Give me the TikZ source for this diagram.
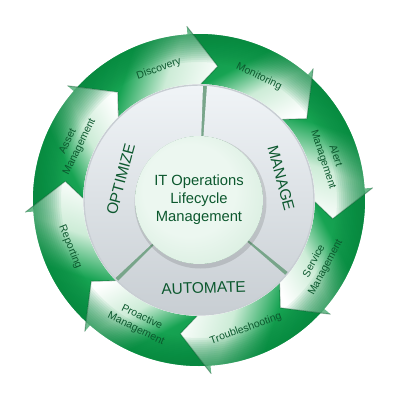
\documentclass[tikz,border=0pt]{standalone}
\usepackage{fontspec}
\setmainfont{Liberation Sans}
\usetikzlibrary{calc}
\definecolor{gr}{RGB}{22,163,82}
\definecolor{grd}{RGB}{8,136,64}
\definecolor{grl}{RGB}{205,236,215}
\definecolor{txt}{RGB}{12,88,46}
\definecolor{gapc}{RGB}{120,165,138}
\definecolor{grayhi}{RGB}{240,244,247}
\definecolor{graylo}{RGB}{200,206,211}
\definecolor{hubin}{RGB}{236,247,240}
\definecolor{hubout}{RGB}{190,226,201}
\pgfdeclareverticalshading{arrowshade}{100bp}{color(0bp)=(white); color(22bp)=(white); color(42bp)=(grl); color(58bp)=(gr); color(100bp)=(grd)}
\pgfdeclareradialshading{hubshade}{\pgfpoint{-6bp}{6bp}}{color(0bp)=(hubin); color(18bp)=(hubin); color(50bp)=(hubout)}
\tikzset{
  ringlabel/.style={text=txt, align=center, font=\fontsize{7.5}{9.2}\selectfont},
  phaselabel/.style={text=txt, font=\fontsize{11}{13}\selectfont}
}
\begin{document}
\begin{tikzpicture}[scale=0.025, line join=round, line cap=round]
    \def\rin{116}\def\rout{166}\def\rspk{174}\def\rtip{135}
    \def\rgray{115}\def\rhub{64}
    \useasboundingbox (-199,-200) rectangle (201,200);
    % outer ring of arrows, head at angle \s
    \foreach \s in {94,49,4,-41,-86,-131,-176,139}{
        \pgfmathsetmacro\p{\s+45}
        \pgfmathsetmacro\sa{\s-22}
        \shade[shading=arrowshade, shading angle=\sa]
            (\p-2:\rout) arc[start angle=\p-2, end angle=\s, radius=\rout]
            -- (\s:\rspk) -- (\s-12:\rtip) -- (\s-5:\rin)
            arc[start angle=\s-5, end angle=\p-5, radius=\rin]
            -- (\p-12:\rtip) -- cycle;
    }
    % darker outer rim
    \foreach \r in {138,140,...,164}
        \fill[grd, opacity=0.075, even odd rule] (0,0) circle (\rout) (0,0) circle (\r);
    \foreach \s in {94,49,4,-41,-86,-131,-176,139}{
        \fill[grd, opacity=0.5] (\s:\rout) -- (\s:\rspk) -- (\s-2:\rout) -- cycle;
        \draw[grd!50!black, opacity=0.3, line width=0.8pt] (\s:\rspk) -- (\s-12:\rtip) -- (\s-5:\rin);
    }
    % middle ring
    \fill[gapc] (0,0) circle (\rgray);
    \foreach \a/\b in {-39/86, -135/-41, 88/223}{
        \begin{scope}
            \clip (\a:\rhub) -- (\a:\rgray) arc[start angle=\a, end angle=\b, radius=\rgray]
                -- (\b:\rhub) arc[start angle=\b, end angle=\a, radius=\rhub] -- cycle;
            \shade[top color=grayhi, bottom color=graylo] (0,0) circle (\rgray);
        \end{scope}
    }
    \draw[graylo, line width=1pt] (0,0) circle (\rgray);
    % hub
    \fill[black, opacity=0.12] (1.5,-2.5) circle (\rhub+2);
    \shade[shading=hubshade] (0,0) circle (\rhub);
    \node[align=center, text=txt, font=\fontsize{10.5}{12.8}\selectfont] (hub) at (0,0) {IT Operations\\Lifecycle\\Management};
    \node[phaselabel, rotate=75] (optimize) at (165:81) {OPTIMIZE};
    \node[phaselabel, rotate=-75] (manage) at (15:85) {MANAGE};
    \node[phaselabel, rotate=2] (automate) at (-87:88) {AUTOMATE};
    % ring labels
    \foreach \ang/\rot/\txt/\nm in {107/19/Discovery/disc, 64/-26/Monitoring/mon,
        18/-72/{Alert\\Management}/alert, -28/62/{Service\\Management}/serv,
        -70/20/Troubleshooting/trbl, -116/-26/{Proactive\\Management}/proact,
        -160/-68/Reporting/rep, 156/64/{Asset\\Management}/asset}
        \node[ringlabel, rotate=\rot] (lbl-\nm) at (\ang:137) {\txt};
\end{tikzpicture}
\end{document}
